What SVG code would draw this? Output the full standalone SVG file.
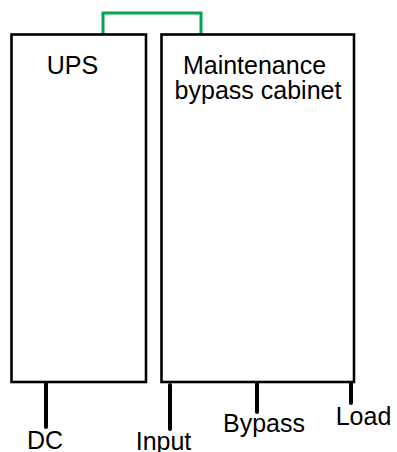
<svg xmlns="http://www.w3.org/2000/svg" width="397" height="452" viewBox="0 0 397 452">
<style>
.box{fill:none;stroke:#000;stroke-width:2.6}
.lead{stroke:#000;stroke-width:4;stroke-linecap:round}
.link{fill:none;stroke:#00a650;stroke-width:3}
text{font-family:"Liberation Sans",Arial,sans-serif;font-size:25px;fill:#000;text-anchor:middle}
</style>
<rect width="397" height="452" fill="#fff"/>
<g id="connectors">
<polyline class="link" points="103,35 103,13 201,13 201,35"/>
<line class="lead" x1="46" y1="383" x2="46" y2="427"/>
<line class="lead" x1="170" y1="385" x2="170" y2="429"/>
<line class="lead" x1="257" y1="383" x2="257" y2="412"/>
<line class="lead" x1="351" y1="383" x2="351" y2="403"/>
</g>
<g id="ups">
<rect class="box" x="11.5" y="34.5" width="134.5" height="347.5"/>
<text x="72.5" y="74">UPS</text>
</g>
<g id="bypass-cabinet">
<rect class="box" x="161.5" y="34.5" width="192.5" height="347.5"/>
<text x="254.5" y="74">Maintenance</text>
<text x="258" y="98.5">bypass cabinet</text>
</g>
<g id="dc"><text x="45" y="449">DC</text></g>
<g id="input"><text x="163.5" y="450">Input</text></g>
<g id="bypass"><text x="264" y="431.5">Bypass</text></g>
<g id="load"><text x="363.5" y="425">Load</text></g>
</svg>
